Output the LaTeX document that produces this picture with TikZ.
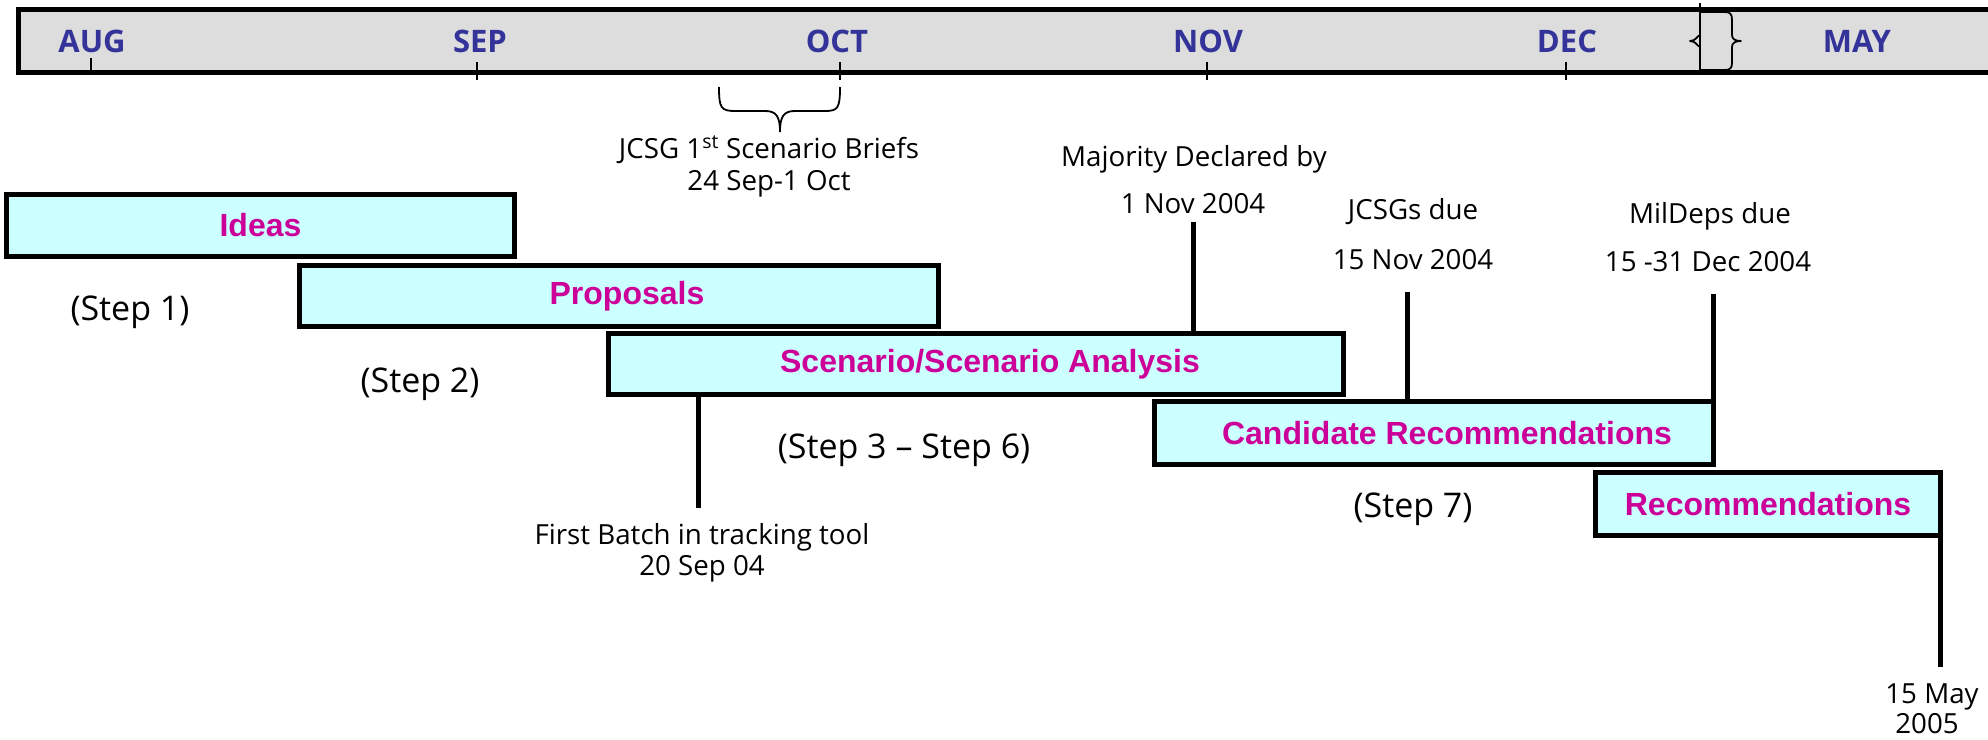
\documentclass[tikz,border=0pt]{standalone}
\usepackage{fontspec}
\setmainfont{Open Sans}
\newfontfamily\boxfont{Liberation Sans}
\definecolor{barfill}{HTML}{DDDDDD}
\definecolor{boxfill}{HTML}{CCFFFF}
\definecolor{magent}{HTML}{CC0099}
\definecolor{monthblue}{HTML}{333399}
\begin{document}
\begin{tikzpicture}[x=1pt,y=-1pt,
  phase/.style={draw=black, line width=5.5pt, fill=boxfill, inner sep=0pt,
    font=\boxfont\bfseries\fontsize{32}{36}\selectfont, text=magent},
  month/.style={font=\bfseries\fontsize{31}{36}\selectfont, text=monthblue, anchor=base, inner sep=0pt},
  note/.style={font=\fontsize{27.7}{32}\selectfont, anchor=base, inner sep=0pt},
  steplbl/.style={font=\fontsize{34}{40}\selectfont, anchor=base, inner sep=0pt},
  vline/.style={line width=5pt},
  ticksty/.style={line width=2pt},
  bracesty/.style={line width=1.8pt, line join=round}]
\useasboundingbox (0,0) rectangle (1988,739);
% time bar
\fill[barfill] (16,7) rectangle (1995,75);
\draw[line width=5.5pt, line join=miter] (1995,9.5) -- (18.5,9.5) -- (18.5,72.5) -- (1995,72.5);
% months
\node[month] (aug) at (92,52) {AUG};
\node[month] (sep) at (480,52) {SEP};
\node[month] (oct) at (837,52) {OCT};
\node[month] (nov) at (1208,52) {NOV};
\node[month] (dec) at (1567,52) {DEC};
\node[month] (may) at (1857,52) {MAY};
% ticks
\draw[ticksty] (91,58) -- (91,72);
\draw[ticksty] (477,62) -- (477,80);
\draw[ticksty] (840,62) -- (840,80);
\draw[ticksty] (1207,62) -- (1207,80);
\draw[ticksty] (1566,62) -- (1566,80);
% break symbol
\draw[bracesty] (1700,3) -- (1700,72);
\draw[bracesty] (1700,35) .. controls (1697,36) and (1696,41) .. (1690,41) .. controls (1696,41) and (1697,46) .. (1700,47);
\draw[bracesty] (1700,12) -- (1725,12) .. controls (1730,12) and (1732,14) .. (1732,20) -- (1732,35)
  .. controls (1732,39) and (1735,41) .. (1741,41) .. controls (1735,41) and (1732,43) .. (1732,47)
  -- (1732,63) .. controls (1732,68) and (1730,70) .. (1725,70) -- (1700,70);
% OCT brace
\draw[bracesty] (719,87) .. controls (719,108) and (721,111) .. (735,111) -- (765,111)
  .. controls (776,111) and (780,116) .. (780,132);
\draw[bracesty] (840,87) .. controls (840,108) and (838,111) .. (825,111) -- (795,111)
  .. controls (784,111) and (780,116) .. (780,132);
\node[note] (jcsgbrief) at (769,158) {JCSG 1\textsuperscript{st} Scenario Briefs};
\node[note] (jcsgdate) at (769,190) {24 Sep-1 Oct};
% phases
\node[phase, minimum width=508pt, minimum height=62pt] (ideas) at (260.5,225.5) {Ideas};
\node[phase, minimum width=639pt, minimum height=61pt] (prop) at (619,296) {\hspace*{16pt}Proposals};
\node[phase, minimum width=735pt, minimum height=61pt] (scen) at (976,364) {\hspace*{28pt}Scenario/Scenario Analysis};
\node[phase, minimum width=559pt, minimum height=63pt] (cand) at (1434,433) {\hspace*{26pt}Candidate Recommendations};
\node[phase, minimum width=345pt, minimum height=63pt] (rec) at (1768,504) {Recommendations};
% step labels
\node[steplbl] (s1) at (130,320) {(Step 1)};
\node[steplbl] (s2) at (420,392) {(Step 2)};
\node[steplbl] (s36) at (904,458) {(Step 3 – Step 6)};
\node[steplbl] (s7) at (1413,517) {(Step 7)};
% milestones
\coordinate (fbend) at (698,508);
\draw[vline] (fbend |- scen.south) -- (fbend);
\node[note] (fb1) at (702,544) {First Batch in tracking tool};
\node[note] (fb2) at (702,575) {20 Sep 04};
\coordinate (majtop) at (1193,222);
\draw[vline] (majtop) -- (majtop |- scen.north);
\node[note] (maj1) at (1194,166) {Majority Declared by};
\node[note] (maj2) at (1193,213) {1 Nov 2004};
\coordinate (jtop) at (1407,292);
\draw[vline] (jtop) -- (jtop |- cand.north);
\node[note] (jc1) at (1413,219) {JCSGs due};
\node[note] (jc2) at (1413,269) {15 Nov 2004};
\coordinate (mtop) at (1713.5,294);
\draw[vline] (mtop) -- (mtop |- cand.north);
\node[note] (mil1) at (1710,223) {MilDeps due};
\node[note] (mil2) at (1708,271) {15 -31 Dec 2004};
\coordinate (mayend) at (1940.5,667);
\draw[vline] (mayend |- rec.south) -- (mayend);
\node[note] (may1) at (1932,703) {15 May};
\node[note] (may2) at (1927,733) {2005};
\end{tikzpicture}
\end{document}
